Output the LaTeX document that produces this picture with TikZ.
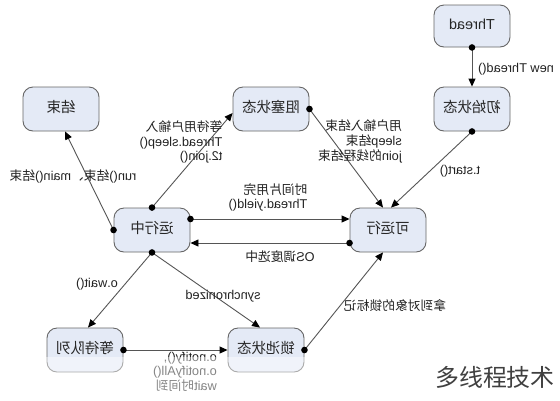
\documentclass[tikz,border=0pt]{standalone}
\usepackage{fontspec}
\setmainfont{Liberation Sans}
\newfontfamily\cjk{Noto Sans CJK SC}
\usetikzlibrary{arrows.meta}
\newcommand\zh[1]{{\cjk #1}}
\newcommand\mirtext[1]{\reflectbox{\begin{tabular}{@{}l@{}}#1\end{tabular}}}
\definecolor{boxfill}{HTML}{E4EAF6}
\definecolor{boxline}{HTML}{666666}
\definecolor{wire}{HTML}{555555}
\definecolor{lbl}{HTML}{222222}
\begin{document}
\begin{tikzpicture}[x=1bp,y=-1bp,
  state/.style={draw=boxline, line width=0.9bp, fill=boxfill, rounded corners=10bp,
    minimum width=76bp, minimum height=44bp, inner sep=0pt,
    font=\fontsize{14.5}{16}\selectfont, text=black!85},
  conn/.style={draw=wire, line width=0.9bp, -{Triangle[length=8bp,width=7bp,fill=black,color=black]}},
  lab/.style={text=lbl, font=\fontsize{12.8}{14.5}\selectfont, inner sep=0pt},
  dot/.style={fill=black}
]
\useasboundingbox (0,0) rectangle (560,400);
\fill[white] (0,0) rectangle (560,400);

% states
\node[state, minimum height=42bp] (thread) at (472,26) {\mirtext{Thread}};
\node[state] (init)  at (472,109) {\mirtext{\zh{初始状态}}};
\node[state] (block) at (271,109) {\mirtext{\zh{阻塞状态}}};
\node[state] (end)   at (61,109)  {\mirtext{\zh{结束}}};
\node[state] (run)   at (152,230) {\mirtext{\zh{运行中}}};
\node[state] (ready) at (388,230) {\mirtext{\zh{可运行}}};
\node[state] (wait)  at (85,350)  {\mirtext{\zh{等待队列}}};
\node[state] (lock)  at (266,350) {\mirtext{\zh{锁池状态}}};

% connectors
\draw[conn] (thread.south) -- (init.north);
\draw[conn] (init.south) -- ([xshift=3bp]ready.north);
\draw[conn] (block.east) -- ([xshift=-5bp]ready.north);
\draw[conn] (run.north) -- ([yshift=-4bp]block.west);
\draw[conn] (run.west) -- ([xshift=4bp]end.south);
\draw[conn] ([yshift=11bp]run.east) -- ([yshift=11bp]ready.west);
\draw[conn] ([yshift=-13bp]ready.west) -- ([yshift=-13bp]run.east);
\draw[conn] (run.south) -- ([xshift=3bp]wait.north);
\draw[conn] (run.south) -- ([xshift=-6bp]lock.north);
\draw[conn] (wait.east) -- (lock.west);
\draw[conn] (lock.east) -- ([xshift=-5bp]ready.south);

% start dots
\fill[dot] (thread.south) circle (3.3bp);
\fill[dot] (init.south) circle (3.3bp);
\fill[dot] (block.east) circle (3.3bp);
\fill[dot] (run.north) circle (3.3bp);
\fill[dot] (run.west) circle (3.3bp);
\fill[dot] ([yshift=11bp]run.east) circle (3.3bp);
\fill[dot] ([yshift=-13bp]ready.west) circle (3.3bp);
\fill[dot] (run.south) circle (3.3bp);
\fill[dot] (wait.east) circle (3.3bp);
\fill[dot] (lock.east) circle (3.3bp);

% labels
\node[lab] (l1) at (516,70) {\mirtext{new Thread()}};
\node[lab] (l2) at (460,172) {\mirtext{t.start()}};
\node[lab] (l3) at (360,142) {\mirtext{\zh{用户输入结束}\\sleep\zh{结束}\\join\zh{的线程结束}}};
\node[lab] (l4) at (181,143) {\mirtext{\zh{等待用户输入}\\Thread.sleep()\\t2.join()}};
\node[lab] (l5) at (73,177) {\mirtext{run()\zh{结束、}main()\zh{结束}}};
\node[lab] (l6) at (268,198) {\mirtext{\zh{时间片用完}\\Thread.yield()}};
\node[lab] (l7) at (280,258) {\mirtext{OS\zh{调度选中}}};
\node[lab] (l8) at (97,285) {\mirtext{o.wait()}};
\node[lab] (l9) at (223,297) {\mirtext{synchronized}};
\node[lab] (l10) at (185,373) {\mirtext{o.notify(),\\o.notifyAll()\\wait\zh{时间到}}};
\node[lab] (l11) at (395,307) {\mirtext{\zh{拿到对象的锁标记}}};

% faded band and watermark
\fill[white, opacity=0.45] (0,357) rectangle (560,400);
\node[text=black!75, font=\fontsize{24}{28}\selectfont, inner sep=0pt] (wm) at (495,377) {\zh{多线程技术}};
\end{tikzpicture}
\end{document}
